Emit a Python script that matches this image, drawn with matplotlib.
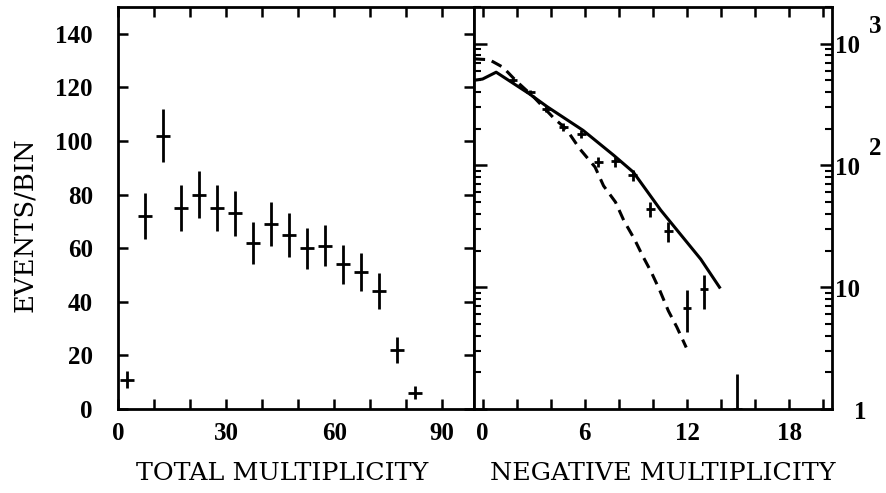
import matplotlib
matplotlib.use('Agg')
import matplotlib.pyplot as plt
import matplotlib.transforms as mtransforms

# ---------------- data ----------------
# left panel: total multiplicity
total_mult = [2.5, 7.5, 12.5, 17.5, 22.5, 27.5, 32.5, 37.5, 42.5, 47.5,
              52.5, 57.5, 62.5, 67.5, 72.5, 77.5, 82.5]
total_events = [11, 72, 102, 75, 80, 75, 73, 62, 69, 65,
                60, 61, 54, 51, 44, 22, 6]
total_err = [3.1, 8.6, 10.0, 8.7, 8.9, 8.7, 8.5, 7.9, 8.3, 8.1,
             7.7, 7.8, 7.3, 7.1, 6.6, 4.7, 2.4]
total_halfbin = 1.9

# right panel: negative multiplicity (log scale)
neg_mult = [1.8, 2.8, 3.75, 4.75, 5.8, 6.8, 7.8, 8.8, 9.85, 10.9, 12.0, 13.0, 14.95]
neg_events = [505, 400, 292, 207, 182, 107, 108, 83, 44, 29, 6.8, 9.7, 1.0]
neg_err_lo = [22, 20, 17, 14, 13, 10, 10, 9, 6, 5.5, 2.5, 3.1, 0.0]
neg_err_hi = [22, 20, 17, 14, 13, 10, 10, 9, 6, 5.5, 2.6, 3.0, 0.95]
neg_halfbin = 0.25

model_solid_x = [-0.5, 0.0, 0.8, 2.75, 3.8, 5.9, 7.7, 8.85, 10.45, 12.8, 13.9]
model_solid_y = [500, 512, 583, 387, 303, 194, 121, 88, 43, 17, 10]

model_dashed_x = [-0.5, 0.4, 1.2, 2.0, 3.0, 4.2, 4.9, 5.7, 6.6, 7.1, 7.8, 8.3,
                  8.9, 9.4, 9.9, 10.4, 10.9, 11.4, 11.95]
model_dashed_y = [750, 738, 640, 490, 365, 243, 200, 137, 97, 68, 50, 35,
                  25, 18, 13.3, 9.4, 6.4, 4.7, 3.2]

left_yticks = [0, 20, 40, 60, 80, 100, 120, 140]
left_xticks_labeled = [0, 30, 60, 90]
right_xticks_labeled = [0, 6, 12, 18]
right_decades = [1, 10, 100, 1000]
right_decade_base = ['1', '10', '10', '10']
right_decade_exp = ['', '', '2', '3']

# ---------------- style ----------------
plt.rcParams['lines.scale_dashes'] = False
TICKFONT = dict(family='Liberation Serif', weight='bold', size=18)
LABELFONT = dict(family='DejaVu Serif', size=18.3)
LW = 2.0

fig = plt.figure(figsize=(8.87, 4.93), dpi=100)
W, H = 887.0, 493.0
ax1 = fig.add_axes([118 / W, 1 - 409 / H, (474 - 118) / W, (409 - 7) / H])
ax2 = fig.add_axes([474 / W, 1 - 409 / H, (832 - 474) / W, (409 - 7) / H])

for ax in (ax1, ax2):
    for s in ax.spines.values():
        s.set_linewidth(2.0)

# ---- left panel ----
ax1.errorbar(total_mult, total_events, yerr=total_err, xerr=total_halfbin,
             fmt='none', ecolor='black', elinewidth=LW, capsize=0)
ax1.set_xlim(0, 98.8)
ax1.set_ylim(0, 150)
ax1.set_xticks(list(range(0, 100, 10)))
ax1.set_xticklabels([str(v) if v in left_xticks_labeled else '' for v in range(0, 100, 10)],
                    fontdict=TICKFONT)
ax1.set_yticks(left_yticks)
ax1.set_yticklabels([str(v) for v in left_yticks], fontdict=TICKFONT)
ax1.tick_params(axis='both', direction='in', length=7, width=1.8,
                top=True, right=True)
ax1.tick_params(axis='y', pad=18)
ax1.tick_params(axis='x', pad=9)

# ---- right panel ----
ax2.set_yscale('log')
ax2.errorbar(neg_mult, neg_events, yerr=[neg_err_lo, neg_err_hi], xerr=neg_halfbin,
             fmt='none', ecolor='black', elinewidth=LW, capsize=0)
ax2.plot(model_solid_x, model_solid_y, color='black', lw=2.2)
ax2.plot(model_dashed_x, model_dashed_y, color='black', lw=2.2, dashes=(8, 5))
ax2.set_xlim(-0.5, 20.5)
ax2.set_ylim(1, 2000)
xt = list(range(0, 21, 2))
ax2.set_xticks(xt)
ax2.set_xticklabels([str(v) if v in right_xticks_labeled else '' for v in xt],
                    fontdict=TICKFONT)
ax2.tick_params(axis='x', direction='in', length=7, width=1.8, top=True, pad=9)
ax2.tick_params(axis='y', which='major', direction='in', length=9, width=1.8,
                left=True, right=True, labelleft=False, labelright=False)
ax2.tick_params(axis='y', which='minor', direction='in', length=5, width=1.5,
                left=True, right=True, labelleft=False, labelright=False)

# right-hand decade labels (base + raised exponent)
trans = mtransforms.blended_transform_factory(ax2.transAxes, ax2.transData)
for val, base, ex in zip(right_decades, right_decade_base, right_decade_exp):
    if base == '1':
        t = mtransforms.offset_copy(trans, fig=fig, x=16, y=-2.5, units='points')
        ax2.text(1.0, val, base, transform=t, ha='left', va='center', **TICKFONT)
    else:
        t = mtransforms.offset_copy(trans, fig=fig, x=2, y=-2.2, units='points')
        ax2.text(1.0, val, base, transform=t, ha='left', va='center', **TICKFONT)
        if ex:
            te = mtransforms.offset_copy(trans, fig=fig, x=26.5, y=12, units='points')
            ax2.text(1.0, val, ex, transform=te, ha='left', va='center', **TICKFONT)

# axis titles
fig.text(282 / W, 1 - 474 / H, 'TOTAL MULTIPLICITY', ha='center', va='center', **LABELFONT)
fig.text(663 / W, 1 - 474 / H, 'NEGATIVE MULTIPLICITY', ha='center', va='center', **LABELFONT)
fig.text(25 / W, 1 - 225 / H, 'EVENTS/BIN', ha='center', va='center', rotation=90,
         family='DejaVu Serif', size=18.6)

fig.savefig('out.png', dpi=100)
